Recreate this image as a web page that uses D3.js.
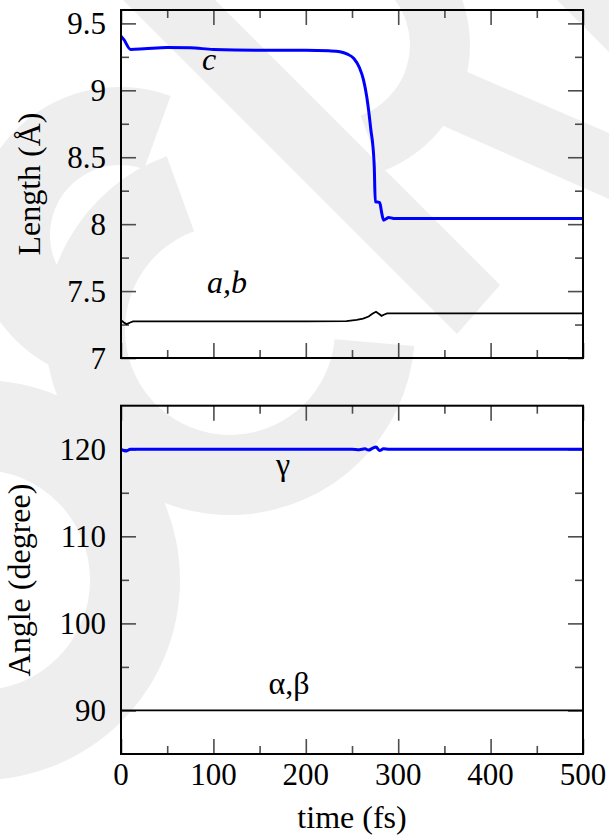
<!DOCTYPE html>
<html>
<head>
<meta charset="utf-8">
<script src="https://cdn.jsdelivr.net/npm/d3@7"></script>
<style>
  html, body { margin: 0; padding: 0; background: #fff; }
</style>
</head>
<body>
<svg id="chart" width="609" height="838"></svg>
<script>
/* Data */

var cTime = [0, 3, 10.5, 25, 50, 75, 100, 150, 200, 225, 237, 245, 252, 258, 262.5, 266, 268, 270.5, 272.7, 274.1, 275.2, 278, 280, 282, 284.2, 287, 289.6, 295, 500];
var cLen  = [9.405, 9.38, 9.305, 9.31, 9.32, 9.318, 9.305, 9.30, 9.30, 9.295, 9.288, 9.27, 9.238, 9.17, 9.076, 8.95, 8.85, 8.70, 8.578, 8.428, 8.167, 8.165, 8.16, 8.09, 8.03, 8.04, 8.05, 8.043, 8.043];

var abTime = [0, 3, 6, 10, 13, 100, 200, 244, 255, 262, 268, 272, 276, 279, 282, 285, 288, 500];
var abLen  = [7.283, 7.265, 7.253, 7.265, 7.273, 7.273, 7.274, 7.276, 7.285, 7.295, 7.31, 7.33, 7.345, 7.33, 7.315, 7.325, 7.333, 7.333];

var gTime  = [0, 3, 6, 10, 250, 258, 264, 268, 272, 276, 280, 284, 290, 500];
var gAngle = [120, 119.85, 119.8, 120, 120, 119.95, 120.05, 119.9, 120.1, 120.25, 119.85, 120.05, 120, 120];

var abgTime = [0, 500];
var abAngle = [90, 90];

var xTicks = [0, 100, 200, 300, 400, 500];
var lenTicks = [7, 7.5, 8, 8.5, 9, 9.5];
var angTicks = [90, 100, 110, 120];

/* Setup */

var svg = d3.select('#chart');
var left = 121, right = 583;
var font = 'Liberation Serif';
var deg = Math.PI / 180;

var x = d3.scaleLinear().domain([0, 500]).range([left, right]);
var yLen = d3.scaleLinear().domain([7, 9.6]).range([358, 10]);
var yAng = d3.scaleLinear().domain([85, 125]).range([754, 405.7]);

function pairs(xs, ys) {
    return xs.map(function (t, i) { return [t, ys[i]]; });
}

/* Watermark: faint pieces of big rotated letters behind the plot */

var wm = svg.append('g').attr('fill', '#eeeeee');
function ring(cx, cy, r0, r1, a0, a1) {
    wm.append('path')
        .attr('transform', 'translate(' + cx + ',' + cy + ')')
        .attr('d', d3.arc().innerRadius(r0).outerRadius(r1).startAngle(a0 * deg).endAngle(a1 * deg)());
}
ring(230, 330, 105, 185, 95, 340);   // C
ring(120, 235, 70, 148, 180, 380);   // left arc
ring(-20, 580, 110, 200, 0, 180);    // lower left arc
ring(335, 45, 75, 135, 20, 160);     // R bowl
wm.append('path').attr('d', 'M123,0 L215,0 L500,285 L457,334 Z');          // R stem
wm.append('path').attr('d', 'M458,68 L609,133 L609,199 L430,120 Z');       // R leg
wm.append('path').attr('d', 'M557,0 L609,0 L609,52 Z');

function noDomain(a) { a.select('.domain').remove(); }

function panel(y, major, minor, labelRight) {
    var g = svg.append('g');
    var top = y.range()[1], bottom = y.range()[0];
    var xMinor = d3.range(50, 500, 100);

    g.append('g').attr('transform', 'translate(0,' + bottom + ')')
        .call(d3.axisTop(x).tickValues(xTicks).tickSize(15).tickFormat('')).call(noDomain);
    g.append('g').attr('transform', 'translate(0,' + bottom + ')')
        .call(d3.axisTop(x).tickValues(xMinor).tickSize(8).tickFormat('')).call(noDomain);
    g.append('g').attr('transform', 'translate(0,' + top + ')')
        .call(d3.axisBottom(x).tickValues(xTicks).tickSize(15).tickFormat('')).call(noDomain);
    g.append('g').attr('transform', 'translate(0,' + top + ')')
        .call(d3.axisBottom(x).tickValues(xMinor).tickSize(8).tickFormat('')).call(noDomain);

    g.append('g').attr('transform', 'translate(' + left + ',0)')
        .call(d3.axisRight(y).tickValues(major).tickSize(15).tickFormat('')).call(noDomain);
    g.append('g').attr('transform', 'translate(' + left + ',0)')
        .call(d3.axisRight(y).tickValues(minor).tickSize(8).tickFormat('')).call(noDomain);
    g.append('g').attr('transform', 'translate(' + right + ',0)')
        .call(d3.axisLeft(y).tickValues(major).tickSize(15).tickFormat('')).call(noDomain);
    g.append('g').attr('transform', 'translate(' + right + ',0)')
        .call(d3.axisLeft(y).tickValues(minor).tickSize(8).tickFormat('')).call(noDomain);

    g.selectAll('.tick line').attr('stroke', '#4d4d4d').attr('stroke-width', 1.6);

    g.selectAll('text.ylab').data(major).enter().append('text')
        .attr('class', 'ylab')
        .attr('x', labelRight)
        .attr('y', function (d) { return y(d); })
        .attr('dy', '0.34em')
        .attr('text-anchor', 'end')
        .style('font-family', font)
        .attr('font-size', 31)
        .text(function (d) { return d; });
}

panel(yLen, lenTicks, [7.25, 7.75, 8.25, 8.75, 9.25], 106);
panel(yAng, angTicks, [95, 105, 115], 106);

/* Lines */

var lenLine = d3.line().x(function (d) { return x(d[0]); }).y(function (d) { return yLen(d[1]); });
var angLine = d3.line().x(function (d) { return x(d[0]); }).y(function (d) { return yAng(d[1]); });

svg.append('path')
    .datum(pairs(abTime, abLen))
    .attr('fill', 'none').attr('stroke', '#000').attr('stroke-width', 1.8)
    .attr('d', lenLine);

svg.append('path')
    .datum(pairs(cTime, cLen))
    .attr('fill', 'none').attr('stroke', '#0000ff').attr('stroke-width', 3)
    .attr('stroke-linejoin', 'round')
    .attr('d', lenLine.curve(d3.curveMonotoneX));

svg.append('path')
    .datum(pairs(abgTime, abAngle))
    .attr('fill', 'none').attr('stroke', '#000').attr('stroke-width', 1.8)
    .attr('d', angLine);

svg.append('path')
    .datum(pairs(gTime, gAngle))
    .attr('fill', 'none').attr('stroke', '#0000ff').attr('stroke-width', 3)
    .attr('d', angLine.curve(d3.curveMonotoneX));

/* Frames */

[yLen, yAng].forEach(function (y) {
    svg.append('rect')
        .attr('x', left).attr('y', y.range()[1])
        .attr('width', right - left).attr('height', y.range()[0] - y.range()[1])
        .attr('fill', 'none').attr('stroke', '#000').attr('stroke-width', 2);
});

/* Labels */

svg.selectAll('text.xlab').data(xTicks).enter().append('text')
    .attr('class', 'xlab')
    .attr('x', function (d) { return x(d); })
    .attr('y', 785)
    .attr('text-anchor', 'middle')
    .style('font-family', font)
    .attr('font-size', 31)
    .text(function (d) { return d; });

function label(tr, txt, italic) {
    svg.append('text').attr('transform', tr)
        .attr('text-anchor', 'middle')
        .style('font-family', font)
        .attr('font-size', 32)
        .attr('font-style', italic ? 'italic' : 'normal')
        .text(txt);
}

label('translate(352,828)', 'time (fs)');
label('translate(40,184) rotate(-90)', 'Length (Å)');
label('translate(30,580) rotate(-90)', 'Angle (degree)');

label('translate(209,70)', 'c', true);
label('translate(227,293)', 'a,b', true);
label('translate(283,475)', 'γ');
label('translate(289,694)', 'α,β');
</script>
</body>
</html>
